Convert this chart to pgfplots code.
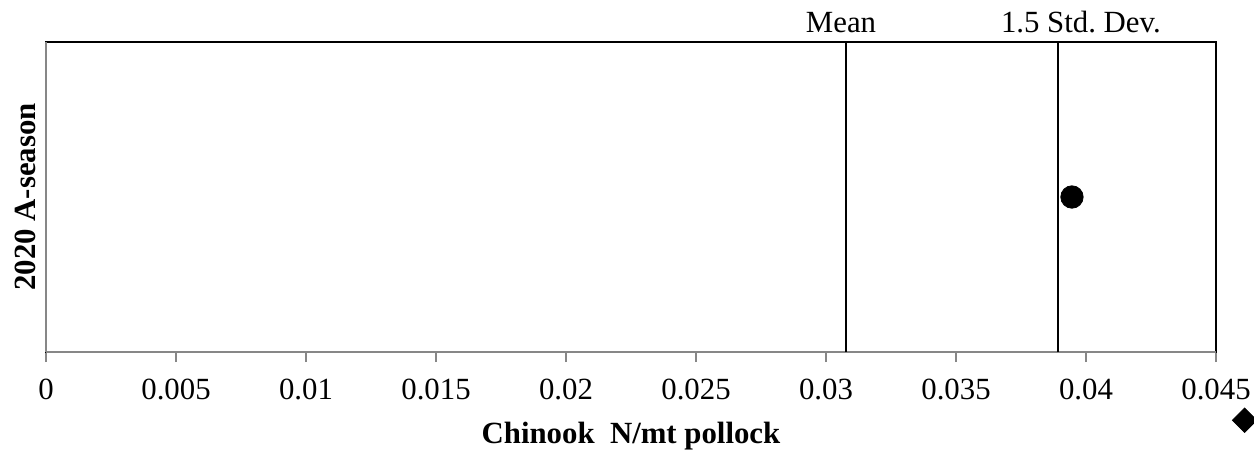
\documentclass[border=0pt]{standalone}
\usepackage{fontspec}
\setmainfont{Liberation Serif}
\usepackage{pgfplots}
\pgfplotsset{compat=1.18}
\definecolor{axgray}{HTML}{878787}
\frenchspacing
\begin{document}
\fontsize{15.4bp}{18bp}\selectfont
\begin{tikzpicture}
\begin{axis}[
  name=ax,
  scale only axis,
  width=585bp, height=155bp,
  xmin=0, xmax=0.045, ymin=0, ymax=1,
  axis line style={black, line width=1bp},
  xtick={0,0.005,...,0.045},
  xticklabels={0,0.005,0.01,0.015,0.02,0.025,0.03,0.035,0.04,0.045},
  scaled x ticks=false,
  ytick=\empty,
  xtick pos=bottom,
  tick align=outside,
  major tick length=5bp,
  x tick style={axgray, line width=1bp},
  xticklabel style={yshift=-3bp},
  /pgf/number format/assume math mode=true,
  xlabel={\bfseries Chinook\ \ N/mt pollock},
  ylabel={\bfseries 2020 A-season},
  xlabel style={yshift=-1bp},
  ylabel style={yshift=-5bp},
  clip=false,
]
\draw[axgray, line width=1bp] (rel axis cs:0,0) -- (rel axis cs:0,1);
\draw[axgray, line width=1bp] (rel axis cs:0,0) -- (rel axis cs:1,0);
\addplot[black, line width=1bp, no marks] coordinates {(0.03077,0) (0.03077,1)}
  node[pos=1, above, xshift=-2.5bp, yshift=-1bp] {Mean};
\addplot[black, line width=1bp, no marks] coordinates {(0.03892,0) (0.03892,1)}
  node[pos=1, above, xshift=11.5bp, yshift=-1bp] {1.5 Std.\ Dev.};
\addplot[only marks, mark=*, mark size=5.6bp, black] coordinates {(0.03946,0.5)};
\addplot[only marks, mark=square*, mark size=4.3bp, mark options={rotate=45}, black] coordinates {(0.0461,-0.22)};
\end{axis}
\pgfresetboundingbox
\path ([xshift=-23bp,yshift=-50.5bp]ax.south west) rectangle ([xshift=19bp,yshift=21bp]ax.north east);
\end{tikzpicture}
\end{document}
